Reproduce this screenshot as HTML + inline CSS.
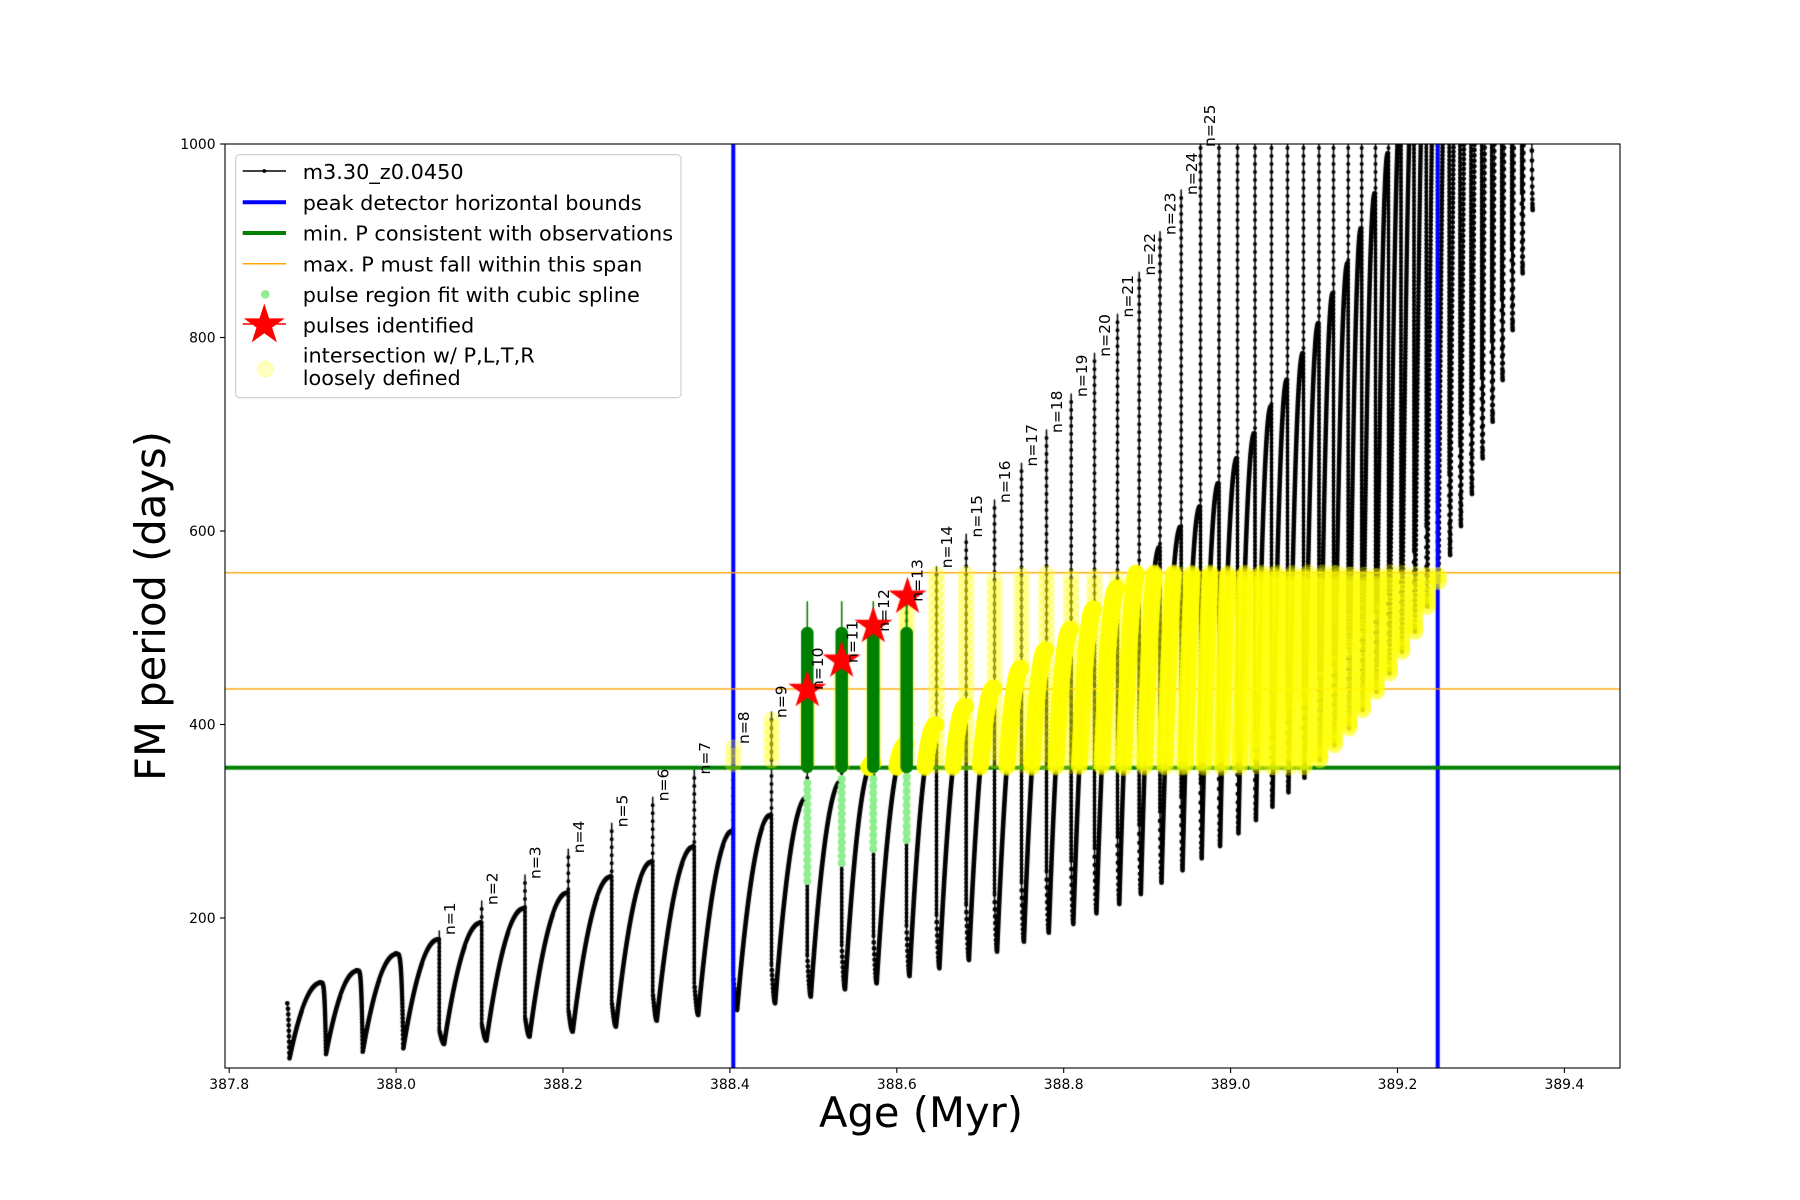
<!DOCTYPE html>
<html><head><meta charset="utf-8">
<style>
html,body{margin:0;padding:0;background:#fff;}
#wrap{position:relative;width:1800px;height:1200px;overflow:hidden;background:#fff;}
canvas,svg{position:absolute;left:0;top:0;}
text{font-family:"DejaVu Sans","Liberation Sans",sans-serif;fill:#000;}
</style></head><body>
<div id="wrap">
<canvas id="c" width="1800" height="1200"></canvas>
<svg width="1800" height="1200" viewBox="0 0 1800 1200" xmlns="http://www.w3.org/2000/svg">
<g font-size="15.5">
<text transform="translate(455,935) rotate(-90)">n=1</text>
<text transform="translate(497.4,905) rotate(-90)">n=2</text>
<text transform="translate(540.7,879) rotate(-90)">n=3</text>
<text transform="translate(584,853.3) rotate(-90)">n=4</text>
<text transform="translate(627.4,827.3) rotate(-90)">n=5</text>
<text transform="translate(668.4,801.3) rotate(-90)">n=6</text>
<text transform="translate(710,774.5) rotate(-90)">n=7</text>
<text transform="translate(748.8,744) rotate(-90)">n=8</text>
<text transform="translate(786.5,718) rotate(-90)">n=9</text>
<text transform="translate(823,690) rotate(-90)">n=10</text>
<text transform="translate(857.4,663) rotate(-90)">n=11</text>
<text transform="translate(889,631.7) rotate(-90)">n=12</text>
<text transform="translate(922.4,601.7) rotate(-90)">n=13</text>
<text transform="translate(952.2,568.3) rotate(-90)">n=14</text>
<text transform="translate(981.9,537.5) rotate(-90)">n=15</text>
<text transform="translate(1010.2,503) rotate(-90)">n=16</text>
<text transform="translate(1037.2,466.5) rotate(-90)">n=17</text>
<text transform="translate(1062.2,433) rotate(-90)">n=18</text>
<text transform="translate(1086.9,397) rotate(-90)">n=19</text>
<text transform="translate(1110.2,356.7) rotate(-90)">n=20</text>
<text transform="translate(1133.2,317.5) rotate(-90)">n=21</text>
<text transform="translate(1154.9,275.5) rotate(-90)">n=22</text>
<text transform="translate(1175.7,235) rotate(-90)">n=23</text>
<text transform="translate(1196.9,195) rotate(-90)">n=24</text>
<text transform="translate(1215,147) rotate(-90)">n=25</text>
</g>
<rect x="225" y="144" width="1395" height="924" fill="none" stroke="#000" stroke-width="1.1"/>
<g stroke="#000" stroke-width="1.1">
<line x1="229.2" y1="1068" x2="229.2" y2="1073"/>
<line x1="396.1" y1="1068" x2="396.1" y2="1073"/>
<line x1="563" y1="1068" x2="563" y2="1073"/>
<line x1="729.9" y1="1068" x2="729.9" y2="1073"/>
<line x1="896.8" y1="1068" x2="896.8" y2="1073"/>
<line x1="1063.7" y1="1068" x2="1063.7" y2="1073"/>
<line x1="1230.6" y1="1068" x2="1230.6" y2="1073"/>
<line x1="1397.5" y1="1068" x2="1397.5" y2="1073"/>
<line x1="1564.4" y1="1068" x2="1564.4" y2="1073"/>
<line x1="220" y1="918" x2="225" y2="918"/>
<line x1="220" y1="724.5" x2="225" y2="724.5"/>
<line x1="220" y1="531" x2="225" y2="531"/>
<line x1="220" y1="337.5" x2="225" y2="337.5"/>
<line x1="220" y1="144" x2="225" y2="144"/>
</g>
<g font-size="13.9" text-anchor="middle">
<text x="229.2" y="1089">387.8</text>
<text x="396.1" y="1089">388.0</text>
<text x="563" y="1089">388.2</text>
<text x="729.9" y="1089">388.4</text>
<text x="896.8" y="1089">388.6</text>
<text x="1063.7" y="1089">388.8</text>
<text x="1230.6" y="1089">389.0</text>
<text x="1397.5" y="1089">389.2</text>
<text x="1564.4" y="1089">389.4</text>
</g>
<g font-size="13.9" text-anchor="end">
<text x="215.6" y="923">200</text>
<text x="215.6" y="729.5">400</text>
<text x="215.6" y="536">600</text>
<text x="215.6" y="342.5">800</text>
<text x="215.6" y="149">1000</text>
</g>
<text x="921" y="1127" font-size="41.67" text-anchor="middle">Age (Myr)</text>
<text transform="translate(165,606) rotate(-90)" font-size="41.67" text-anchor="middle">FM period (days)</text>
<rect x="235.7" y="154.7" width="445.3" height="243" rx="4" ry="4" fill="#fff" fill-opacity="0.8" stroke="#cccccc" stroke-width="1.1"/>
<line x1="242.7" y1="171" x2="286" y2="171" stroke="#000" stroke-width="1.5"/>
<circle cx="264.3" cy="171" r="1.9" fill="#000"/>
<line x1="242.7" y1="202.3" x2="286" y2="202.3" stroke="#0000ff" stroke-width="4"/>
<line x1="242.7" y1="233" x2="286" y2="233" stroke="#008000" stroke-width="4"/>
<line x1="242.7" y1="263.7" x2="286" y2="263.7" stroke="#ffa500" stroke-width="1.5"/>
<circle cx="265.3" cy="294.3" r="4.3" fill="#90ee90"/>
<line x1="242.7" y1="324" x2="286" y2="324" stroke="#ff0000" stroke-width="1.5"/>
<polygon points="264.3,303.5 269.13,318.36 284.75,318.36 272.11,327.54 276.94,342.39 264.3,333.21 251.66,342.39 256.49,327.54 243.85,318.36 259.47,318.36" fill="#ff0000"/>
<circle cx="265.3" cy="369" r="7.7" fill="#ffff00" fill-opacity="0.25" stroke="#ffff00" stroke-opacity="0.3" stroke-width="1"/>
<g font-size="20.83">
<text x="302.7" y="179">m3.30_z0.0450</text>
<text x="302.7" y="210">peak detector horizontal bounds</text>
<text x="302.7" y="240.7">min. P consistent with observations</text>
<text x="302.7" y="271.3">max. P must fall within this span</text>
<text x="302.7" y="302">pulse region fit with cubic spline</text>
<text x="302.7" y="332.3">pulses identified</text>
<text x="302.7" y="362.3">intersection w/ P,L,T,R</text>
<text x="302.7" y="385">loosely defined</text>
</g>
</svg>
</div>
<script>
(function(){
var cv=document.getElementById('c');var ctx=cv.getContext('2d');
var Xn=[439.3,481.7,525,568.3,611.7,652.7,694.3,733.3,771.5,807.3,841.7,873.5,906.5,936.5,966.2,994.5,1021.5,1046.5,1071.2,1094.5,1117.5,1139.2,1160,1181.2,1200.5,1219,1237.5,1255,1271.5,1287.5,1303.5,1319,1333.5,1348.2,1361.7,1375.5,1388.5,1401,1414,1426.3,1437.5,1449.2,1460,1471,1481.7,1491.7,1501.7,1511.7,1521.7,1531.7];
var Pn=[939.3,922.7,908.3,892.7,876.7,861.7,846.7,831,815,798,781.7,763,745,725,706.7,688.3,668.3,650,629.5,609,588.5,568,547.5,527,506.7,483.3,458.3,433.3,406.7,380,353.3,323.3,293.3,263.3,228.3,193.3,153.3,110,65,20,-30,-80,-130,-180,-230,-280,-330,-380,-430,-480];
var Sn=[931,901,875,849.3,823.3,797.3,770,740,712,690,660.7,626,596.7,566.7,534.3,500,463.3,430,394,353.3,314.3,272.3,231.7,190];
var Mn=[1044,1040.7,1036.7,1031.7,1026.7,1020.7,1015,1010,1003.3,996.7,989.3,983.3,976,968.3,960,951.7,941.7,932.7,924,913.3,904,894,882.7,870.3,858.3,846,833.3,820,806.7,792.3,777.7,760,745,728.3,710,691.7,673.3,651.7,631.7,606.7,581.7,555,526,494,458.3,421.7,380,330,273.3,210];
var pts=[];
function add(x,y,t){pts.push([x,y,t]);}
function rise(x0,y0,x1,y1){var N=Math.max(40,Math.round(22*(x1-x0)));for(var i=1;i<=N;i++){var t=i/N;var f=1-(1-t)*(1-t);add(x0+(x1-x0)*t,y0-(y0-y1)*f,'r');}}
function fall(x0,y0,x1,y1){var N=40;for(var i=1;i<=N;i++){var t=i/N;add(x0+(x1-x0)*Math.sqrt(t),y0+(y1-y0)*t*t,'r');}}
for(var i=0;i<=10;i++){var t=i/10;add(287.3+2.2*Math.sqrt(t),1003.3+55*t,'r');}
var cx=289.5,cy=1058.3;
var pre=[[321,982.7,326,1054],[357.7,970.7,362.7,1051.7],[396.7,954,403.3,1048.3]];
pre.forEach(function(a){rise(cx,cy,a[0],a[1]);fall(a[0],a[1],a[2],a[3]);cx=a[2];cy=a[3];});
for(var k=0;k<50;k++){
  var n=k+1,X=Xn[k],P=Pn[k],M=Mn[k];
  var S=k<24?Sn[k]:-700;
  rise(cx,cy,X-0.8,P);
  add(X,P,'u');add(X,S,'u');
  var h=n<=14?14+3*(n-1):Math.min(80,53+2*(n-14));
  var ya=M-h;
  var cnt=0;
  for(var y=S+8;y<P;y+=8){add(X,y,'s');}
  for(var y=Math.max(P,S+8);y<ya;y+=4){add(X,y,(cnt++%2)?'e':'d');}
  add(X,ya,'d');
  var mx=X+Math.max(1,5-0.15*n);
  for(var j=1;j<=12;j++){var tt=j/12;add(X+(mx-X)*tt,ya+h*Math.sin(tt*Math.PI/2),'r');}
  cx=mx;cy=M;
}
ctx.save();
ctx.beginPath();ctx.rect(225,144,1395,924);ctx.clip();
ctx.strokeStyle='#000';ctx.lineWidth=1.5;ctx.lineJoin='round';
ctx.beginPath();
for(var i=0;i<pts.length;i++){if(i===0)ctx.moveTo(pts[i][0],pts[i][1]);else ctx.lineTo(pts[i][0],pts[i][1]);}
ctx.stroke();
ctx.lineWidth=3;ctx.beginPath();
for(var i=1;i<pts.length;i++){var a=pts[i][2],b=pts[i-1][2];if((a==='d'||a==='e')&&(b==='d'||b==='e')){ctx.moveTo(pts[i-1][0],pts[i-1][1]);ctx.lineTo(pts[i][0],pts[i][1]);}}
ctx.stroke();
ctx.fillStyle='#000';ctx.beginPath();
for(var i=0;i<pts.length;i++){var p=pts[i];if(p[2]==='u')continue;if(p[1]<130||p[1]>1080)continue;var r=p[2]==='r'?2.4:2.0;ctx.moveTo(p[0]+r,p[1]);ctx.arc(p[0],p[1],r,0,2*Math.PI);}
ctx.fill();
ctx.fillStyle='#0000ff';ctx.fillRect(733.3-2,144,4,924);ctx.fillRect(1437.7-2,144,4,924);
ctx.fillStyle='#008000';ctx.fillRect(225,767.7-2,1395,4);
ctx.fillStyle='#ffa500';ctx.fillRect(225,572.7-0.7,1395,1.4);ctx.fillRect(225,689-0.7,1395,1.4);
ctx.fillStyle='rgba(255,255,0,0.3)';ctx.strokeStyle='rgba(255,255,0,0.3)';ctx.lineWidth=1;
for(var i=0;i<pts.length;i++){var p=pts[i];if(p[2]==='u'||p[2]==='e')continue;if(p[0]<731||p[0]>1440||p[1]<572.7||p[1]>767.7)continue;ctx.beginPath();ctx.arc(p[0],p[1],8,0,2*Math.PI);ctx.fill();ctx.stroke();}
var bars=[807.3,841.7,873.3,906.7];
ctx.strokeStyle='#008000';ctx.lineCap='round';
bars.forEach(function(x){ctx.lineWidth=12.5;ctx.beginPath();ctx.moveTo(x,633);ctx.lineTo(x,767);ctx.stroke();ctx.lineWidth=1.6;ctx.beginPath();ctx.moveTo(x,601.7);ctx.lineTo(x,633);ctx.stroke();});
ctx.fillStyle='#90ee90';
[[807.3,783,883],[841.7,779,865],[873.3,779,853],[906.7,777,842]].forEach(function(a){for(var y=a[1];y<=a[2]+0.1;y+=7){ctx.beginPath();ctx.arc(a[0],y,4,0,2*Math.PI);ctx.fill();}});
function star(sx,sy,R){ctx.beginPath();for(var i=0;i<10;i++){var a=-Math.PI/2+i*Math.PI/5;var r=(i%2)?R*0.382:R;var px=sx+r*Math.cos(a),py=sy+r*Math.sin(a);if(i===0)ctx.moveTo(px,py);else ctx.lineTo(px,py);}ctx.closePath();ctx.fill();}
ctx.fillStyle='#ff0000';
star(807.3,690,20);star(841.7,660.7,20);star(873.3,626,20);star(907.5,596.7,20);
ctx.restore();
})();
</script>
</body></html>
